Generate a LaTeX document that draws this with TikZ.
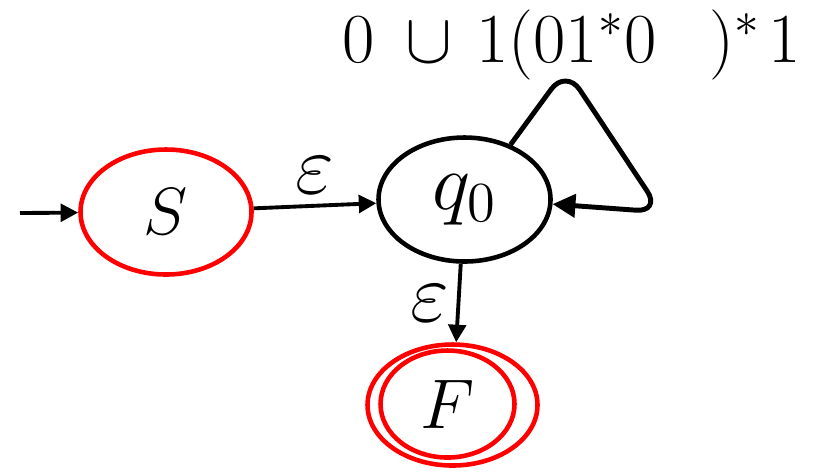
\RequirePackage{fix-cm}
\documentclass[tikz,border=0pt]{standalone}
\usepackage{fontspec}
\usetikzlibrary{positioning,arrows.meta,shapes.geometric}
\definecolor{ink}{HTML}{000000}
\definecolor{acc}{HTML}{FF0000}
\tikzset{
  stnode/.style={ellipse, draw=ink, line width=1.3pt, minimum width=1.72cm, minimum height=1.24cm,
                 inner sep=0pt, font=\fontsize{23}{27}\selectfont},
  startnode/.style={stnode, draw=acc, font=\fontsize{19}{23}\selectfont},
  ring/.style={ellipse, draw=acc, line width=1.3pt, inner sep=0pt, font=\fontsize{20}{24}\selectfont},
  flow/.style={-{Triangle[length=5pt,width=5pt]}, line width=1.1pt, draw=ink},
  loopflow/.style={-{Triangle[length=6.5pt,width=6.5pt]}, line width=1.4pt, draw=ink},
  lab/.style={font=\fontsize{24}{28}\selectfont, text=ink, inner sep=1pt},
  expr/.style={font=\fontsize{20}{24}\selectfont, text=ink, inner sep=0pt},
}
\begin{document}
\begin{tikzpicture}
  \useasboundingbox (0,0) rectangle (8.21,4.72);
  % states
  \node[startnode, minimum width=1.71cm, minimum height=1.25cm] (S) at (1.66,2.60) {$S$};
  \node[stnode] (q0) at (4.645,2.725) {$q_0$};
  \node[ring, minimum width=1.70cm, minimum height=1.21cm] (F) at (4.525,0.67) {};
  \node[ring, minimum width=1.34cm, minimum height=1.07cm] (Fin) at (4.475,0.68) {$F$};
  \coordinate (init) at (0.20,2.59);
  \coordinate (loopTop) at (5.66,4.03);
  \coordinate (loopRight) at (6.61,2.60);
  % transitions
  \draw[flow] (init) -- (S);
  \draw[flow] (S) -- node[lab, above=2pt] {$\varepsilon$} (q0);
  \draw[flow] (q0) -- node[lab, left=1pt] {$\varepsilon$} (F);
  \draw[loopflow, rounded corners=0.25cm] (q0.50) -- (loopTop) -- (loopRight) -- (q0.-3);
  \node[expr, anchor=base] (loopLab) at (5.72,4.10)
    {0\hspace{8.5pt}$\cup$\hspace{7pt}1(01$^{*}$0\hspace{15pt})$^{*}$\hspace{2.3pt}1};
\end{tikzpicture}
\end{document}
